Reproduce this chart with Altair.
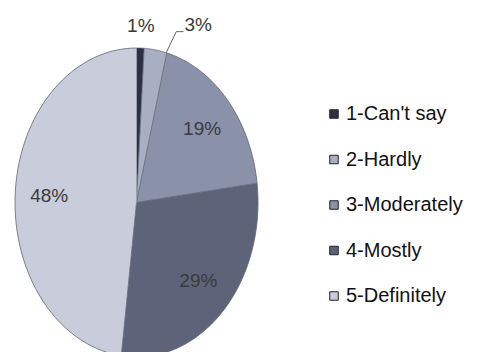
import altair as alt
import pandas as pd

# ---- data ----
categories = ["1-Can't say", "2-Hardly", "3-Moderately", "4-Mostly", "5-Definitely"]
percent = [1, 3, 19, 29, 48]
slice_order = [1, 2, 3, 4, 5]
colors = ["#2b3142", "#a9afc2", "#8a92aa", "#5d6479", "#c9cddb"]

df = pd.DataFrame({"category": categories, "value": percent, "idx": slice_order})

W, H = 462, 344
X_DOM = [-1.0576, 2.7449]
Y_DOM = [-0.9676, 1.2589]
xs = alt.Scale(domain=X_DOM, nice=False, zero=False)
ys = alt.Scale(domain=Y_DOM, nice=False, zero=False)
FONT = "Liberation Sans"

base = (
    alt.Chart(df)
    .transform_joinaggregate(total="sum(value)")
    .transform_window(cum_end="sum(value)", sort=[alt.SortField("idx")], frame=[None, 0])
    .transform_calculate(cum_start="datum.cum_end - datum.value")
    .transform_calculate(a0="2*PI*datum.cum_start/datum.total")
    .transform_calculate(a1="2*PI*datum.cum_end/datum.total")
    .transform_calculate(amid="(datum.a0 + datum.a1)/2")
)

slices = (
    base.transform_calculate(k="sequence(0, 62)")
    .transform_flatten(["k"])
    .transform_calculate(t="datum.k == 0 ? 0 : datum.a0 + (datum.a1 - datum.a0)*(datum.k - 1)/60")
    .transform_calculate(r="datum.k == 0 ? 0 : 1")
    .transform_calculate(px="datum.r*sin(datum.t)")
    .transform_calculate(py="datum.r*cos(datum.t)")
    .mark_line(filled=True, stroke="#5f6474", strokeWidth=0.8, clip=True)
    .encode(
        x=alt.X("px:Q", scale=xs, axis=None),
        y=alt.Y("py:Q", scale=ys, axis=None),
        color=alt.Color(
            "category:N",
            scale=alt.Scale(domain=categories, range=colors),
            legend=alt.Legend(
                title=None,
                orient="none",
                legendX=316,
                legendY=96,
                symbolType="square",
                symbolSize=72,
                symbolStrokeColor="#222",
                symbolStrokeWidth=1,
                labelFont=FONT,
                labelFontSize=20,
                labelColor="#111",
                labelOffset=2,
                rowPadding=25.5,
                labelLimit=200,
            ),
        ),
        order="k:Q",
        detail="category:N",
    )
)

lab = (
    base.transform_calculate(lr="datum.value < 5 ? 1.14 : 0.72")
    .transform_calculate(lx="datum.lr*sin(datum.amid)")
    .transform_calculate(ly="datum.lr*cos(datum.amid)")
    .transform_calculate(lab="datum.value + '%'")
)

text_main = (
    lab.transform_filter(alt.datum.category != "2-Hardly")
    .mark_text(font=FONT, fontSize=19, color="#3a3a3a")
    .encode(x=alt.X("lx:Q", scale=xs), y=alt.Y("ly:Q", scale=ys), text="lab:N")
)

shifted = (
    lab.transform_filter(alt.datum.category == "2-Hardly")
    .transform_calculate(sx="datum.lx + 0.329")
    .transform_calculate(sy="datum.ly + 0.02")
    .transform_calculate(ax="sin(datum.amid + 0.09)")
    .transform_calculate(ay="cos(datum.amid + 0.09)")
    .transform_calculate(bx="datum.sx - 0.18")
    .transform_calculate(cx="datum.sx - 0.12")
    .transform_calculate(by="datum.sy - 0.04")
)

text_small = shifted.mark_text(font=FONT, fontSize=19, color="#3a3a3a").encode(
    x=alt.X("sx:Q", scale=xs), y=alt.Y("sy:Q", scale=ys), text="lab:N"
)
leader1 = shifted.mark_rule(color="#666", strokeWidth=1).encode(
    x=alt.X("ax:Q", scale=xs), y=alt.Y("ay:Q", scale=ys), x2="bx:Q", y2="by:Q"
)
leader2 = shifted.mark_rule(color="#666", strokeWidth=1).encode(
    x=alt.X("bx:Q", scale=xs), y=alt.Y("by:Q", scale=ys), x2="cx:Q", y2="by:Q"
)

chart = (
    alt.layer(slices, leader1, leader2, text_main, text_small)
    .properties(width=W, height=H, padding=0, autosize=alt.AutoSizeParams(type="none"), background="white")
    .configure_view(stroke=None)
)

chart.save("out.html", embed_options={"renderer": "svg", "actions": False})
